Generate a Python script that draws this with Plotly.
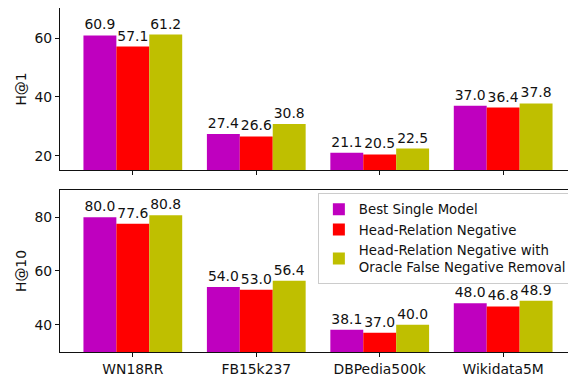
import plotly.graph_objects as go
from plotly.subplots import make_subplots

categories = ["WN18RR", "FB15k237", "DBPedia500k", "Wikidata5M"]
series_names = ["Best Single Model", "Head-Relation Negative",
                "Head-Relation Negative with<br>Oracle False Negative Removal"]
colors = ["#bf00bf", "#ff0000", "#bfbf00"]

h1_best = [60.9, 27.4, 21.1, 37.0]
h1_hrn = [57.1, 26.6, 20.5, 36.4]
h1_oracle = [61.2, 30.8, 22.5, 37.8]

h10_best = [80.0, 54.0, 38.1, 48.0]
h10_hrn = [77.6, 53.0, 37.0, 46.8]
h10_oracle = [80.8, 56.4, 40.0, 48.9]

FONT = "DejaVu Sans"
FS = 13.9
INK = "#111"

fig = make_subplots(rows=2, cols=1, shared_xaxes=True, vertical_spacing=0.058)

for i, (name, col, v1, v10) in enumerate(zip(series_names, colors,
                                             [h1_best, h1_hrn, h1_oracle],
                                             [h10_best, h10_hrn, h10_oracle])):
    fig.add_trace(go.Bar(x=categories, y=v1, name=name, marker_color=col,
                         marker_line_width=0, text=[f"{v:.1f}" for v in v1],
                         textposition="outside", cliponaxis=False,
                         textfont=dict(size=FS, color=INK), showlegend=False),
                  row=1, col=1)
    fig.add_trace(go.Bar(x=categories, y=v10, name=name, marker_color=col,
                         marker_line_width=0, text=[f"{v:.1f}" for v in v10],
                         textposition="outside", cliponaxis=False,
                         textfont=dict(size=FS, color=INK)),
                  row=2, col=1)

axis_common = dict(showline=True, mirror=True, linecolor=INK, linewidth=1,
                   ticks="outside", tickcolor=INK, ticklen=4, showgrid=False,
                   zeroline=False, automargin=False,
                   tickfont=dict(size=FS, color=INK))

fig.update_xaxes(**axis_common, range=[-0.59, 3.59])
fig.update_xaxes(showticklabels=False, row=1, col=1)
fig.update_yaxes(**axis_common)
fig.update_yaxes(range=[15.2, 70.2], tickvals=[20, 40, 60], title_text="H@1",
                 title_standoff=4, title_font=dict(size=FS, color=INK),
                 row=1, col=1)
fig.update_yaxes(range=[29.8, 90.2], tickvals=[40, 60, 80], title_text="H@10",
                 title_standoff=4, title_font=dict(size=FS, color=INK),
                 row=2, col=1)

# The page body has an 8px margin; the figure is sized so that its plot area
# lands where the reference's axes are.
fig.update_layout(
    width=568, height=368,
    margin=dict(l=52, r=0, t=0, b=24),
    barmode="group", bargap=0.2, bargroupgap=0,
    plot_bgcolor="white", paper_bgcolor="white",
    font=dict(family=FONT, size=FS, color=INK),
    legend=dict(x=0.992, y=0.462, xanchor="right", yanchor="top",
                bgcolor="rgba(255,255,255,0.85)", bordercolor="#ccc", borderwidth=1,
                font=dict(size=13.3, color=INK), tracegroupgap=0, itemwidth=30),
)
fig.update_yaxes(domain=[0.529, 1.0], row=1, col=1)
fig.update_yaxes(domain=[0.0, 0.471], row=2, col=1)

fig.write_html("out.html")
